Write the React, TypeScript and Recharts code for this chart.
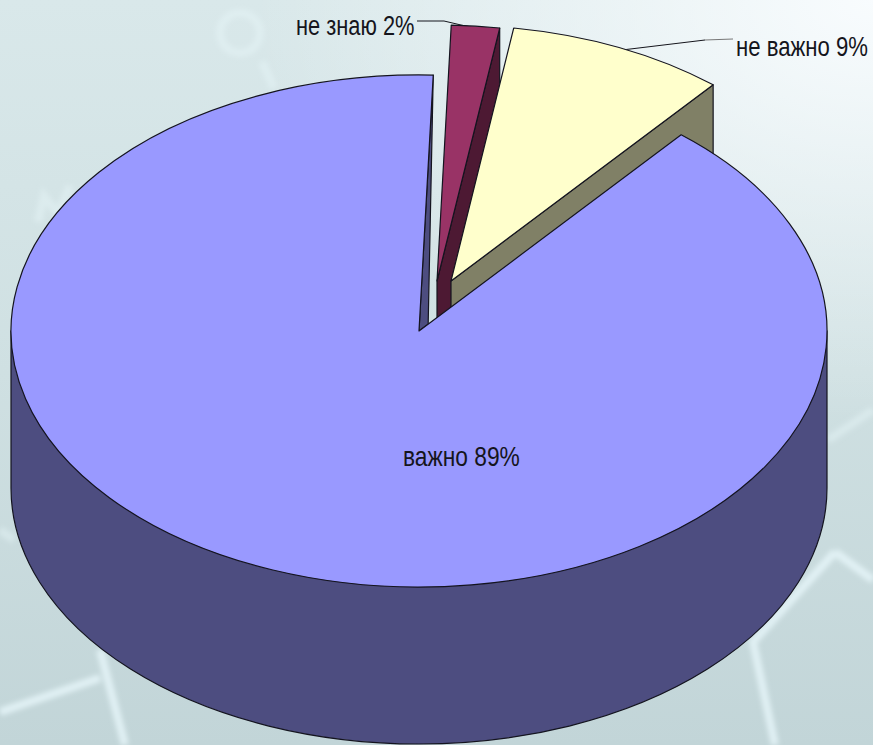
import { Pie, PieChart } from "recharts";

const names = ["не знаю", "не важно", "важно"];
const shares = [1.9, 8.65, 89.45];
const topColors = ["#993366", "#FFFFCC", "#9999FF"];
const sideColors = ["#4D1933", "#808066", "#4D4D80"];

const total = shares.reduce((a, b) => a + b, 0);
const data = names.map((name, i) => ({ name, value: shares[i] }));

const WIDTH = 873;
const HEIGHT = 745;
const TILT = 0.6275; // flattening of the disc
const DEPTH = 157;
const EDGE = "#14141f";

// how far each slice is pulled out of the pie
const offsetX = [18, 32, 0];
const offsetY = [-50, -50, 0];

// label placing: text x, baseline y, horizontal squeeze
const labelX = [296, 736, 403];
const labelY = [35, 56, 466];
const labelSqueeze = [0.78, 0.791, 0.813];

const toRad = (deg: number) => (deg * Math.PI) / 180;

function Slice3D(props: any) {
    const { cx, cy, outerRadius: r, startAngle, endAngle, index } = props;
    const ax = cx + offsetX[index];
    const ay = cy + offsetY[index];
    const ry = r * TILT;
    const at = (deg: number) => ({
        x: ax + r * Math.cos(toRad(deg)),
        y: ay - ry * Math.sin(toRad(deg)),
    });
    const from = at(startAngle);
    const to = at(endAngle);
    const large = Math.abs(startAngle - endAngle) > 180 ? 1 : 0;
    const top = `M${ax},${ay} L${from.x},${from.y} A${r},${ry} 0 ${large} 1 ${to.x},${to.y} Z`;

    // the big slice has its cut face nearly edge-on, only a thin wedge shows
    const isBig = shares[index] > 50;
    const face = isBig
        ? `M${to.x},${to.y} L${ax},${ay} L${ax + 0.035 * (from.x - ax)},${ay + 0.035 * (from.y - ay)} Z`
        : `M${to.x},${to.y} L${to.x},${to.y + DEPTH} L${ax},${ay + DEPTH} L${ax},${ay} Z`;

    const wall = `M${ax - r},${ay} L${ax - r},${ay + DEPTH} A${r},${ry} 0 0 0 ${ax + r},${ay + DEPTH} L${ax + r},${ay} Z`;

    return (
        <g>
            {isBig && <path d={wall} fill={sideColors[index]} stroke={EDGE} strokeWidth={1.2} />}
            <path d={face} fill={sideColors[index]} stroke={EDGE} strokeWidth={1.2} strokeLinejoin="round" />
            <path d={top} fill={topColors[index]} stroke={EDGE} strokeWidth={1.2} strokeLinejoin="round" />
        </g>
    );
}

function SliceLabel(props: any) {
    const i = props.index;
    return (
        <text
            transform={`translate(${labelX[i]},${labelY[i]}) scale(${labelSqueeze[i]},1)`}
            fontFamily="Liberation Sans"
            fontSize={28}
            fill="#15151c"
        >
            {`${names[i]} ${Math.round((shares[i] / total) * 100)}%`}
        </text>
    );
}

function Backdrop() {
    return (
        <svg width={WIDTH} height={HEIGHT} style={{ position: "absolute", left: 0, top: 0 }}>
            <defs>
                <filter id="soft" x="-5%" y="-5%" width="110%" height="110%">
                    <feGaussianBlur stdDeviation="2.4" />
                </filter>
            </defs>
            <g fill="none" stroke="#e6f5f8" strokeWidth={8} filter="url(#soft)">
                <g opacity={0.45}>
                    <circle cx={240} cy={33} r={20} />
                    <path d="M262,62 L274,88" />
                    <path d="M38,222 L44,196 L58,214 L70,186" />
                    <path d="M0,530 L14,540" />
                    <path d="M828,440 L873,410" />
                </g>
                <g opacity={0.85}>
                    <path d="M0,712 L100,678" />
                    <path d="M100,650 L125,745" />
                    <path d="M835,552 L873,580" />
                    <path d="M835,552 L753,642 L775,745" />
                </g>
            </g>
        </svg>
    );
}

export default function App() {
    return (
        <div
            style={{
                position: "absolute",
                left: 0,
                top: 0,
                width: WIDTH,
                height: HEIGHT,
                overflow: "hidden",
                background:
                    "radial-gradient(ellipse 620px 420px at 100% 0%, rgba(250,253,255,0.95), rgba(250,253,255,0) 100%), linear-gradient(180deg, #d9e8ea 0%, #cfe0e2 50%, #c2d5d8 100%)",
            }}
        >
            <Backdrop />
            <div style={{ position: "absolute", left: 0, top: 0 }}>
                <PieChart width={WIDTH} height={HEIGHT} margin={{ top: 0, right: 0, bottom: 0, left: 0 }}>
                    <Pie
                        data={data}
                        dataKey="value"
                        nameKey="name"
                        cx={419}
                        cy={331}
                        outerRadius={408}
                        startAngle={88}
                        endAngle={-272}
                        stroke="none"
                        shape={<Slice3D />}
                        label={<SliceLabel />}
                        labelLine={false}
                        isAnimationActive={false}
                    />
                    {/* leader lines */}
                    <polyline points="417,21 444,21 461,25 471,27" fill="none" stroke="#15151c" strokeWidth={1} />
                    <polyline points="622,50 705,40" fill="none" stroke="#15151c" strokeWidth={1} />
                    <polyline points="705,40 733,39" fill="none" stroke="#777" strokeWidth={1} />
                </PieChart>
            </div>
        </div>
    );
}
